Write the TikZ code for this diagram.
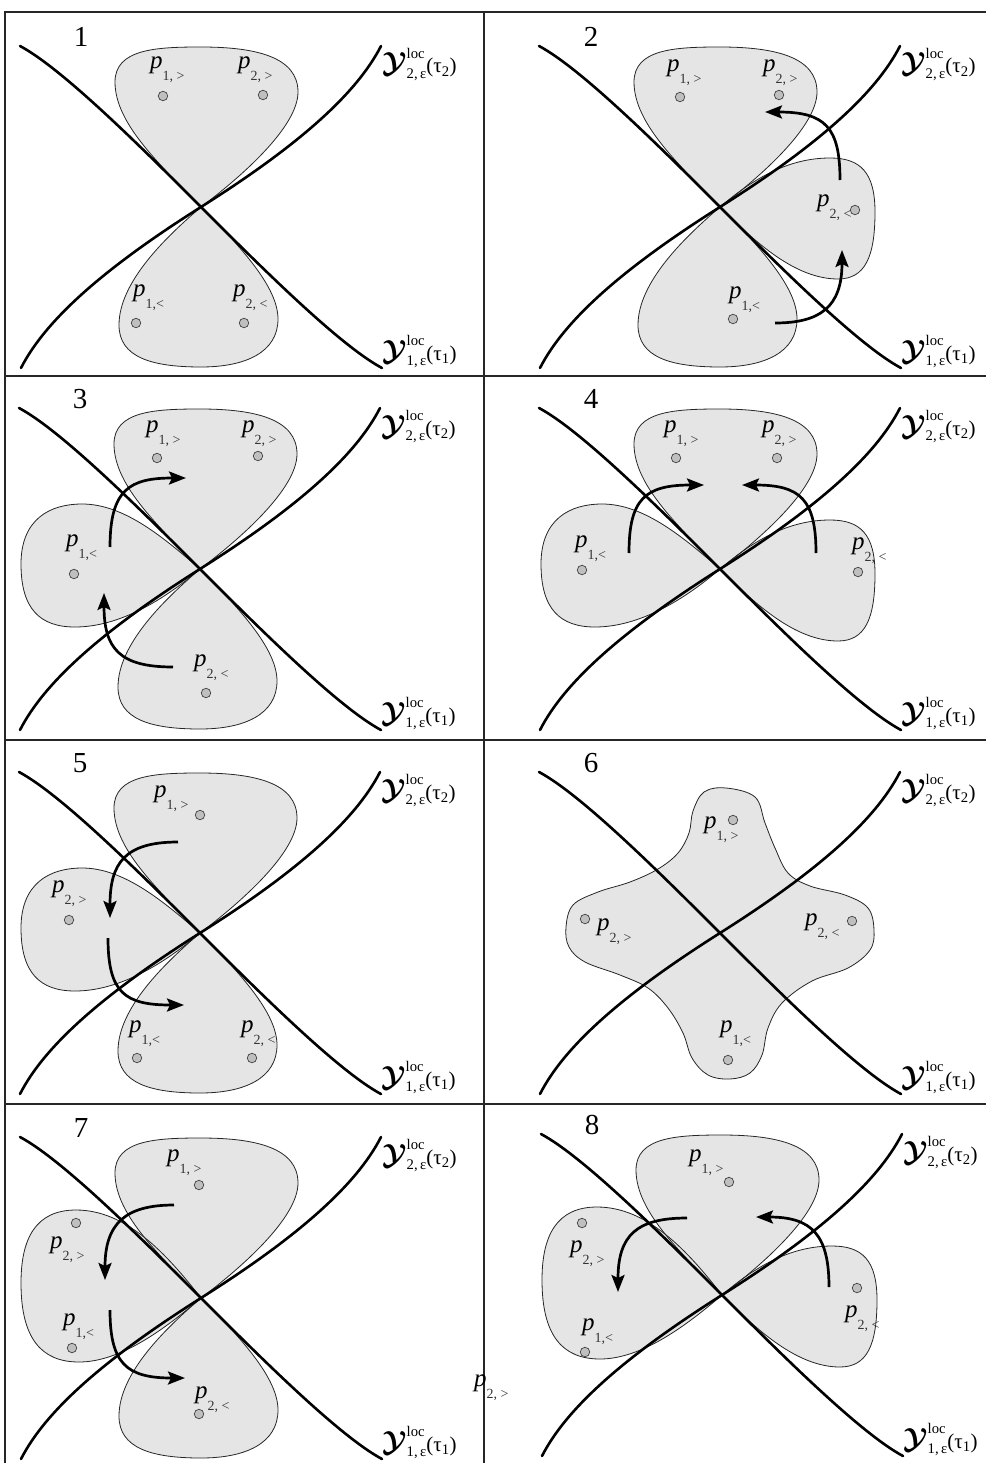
\documentclass[tikz,border=0pt]{standalone}
\usepackage{amsmath}
\usepackage{bm}
\usepackage{fontspec}
\setmainfont{Liberation Serif}
\usetikzlibrary{arrows.meta}

\tikzset{
  frameline/.style={line width=1.1pt, black!85},
  ycurve/.style={line width=2.6pt, line cap=round},
  blobfill/.style={fill=black!10},
  blobline/.style={draw=black!85, line width=0.8pt},
  dot/.style={circle, draw=black!75, fill=black!25, line width=0.7pt, minimum size=9.5pt, inner sep=0pt},
  mv/.style={line width=2.7pt, -{Stealth[length=17pt,width=13pt,inset=3pt]}},
  plab/.style={anchor=base west, inner sep=0pt, font=\fontsize{25}{25}\selectfont},
  ylab/.style={anchor=base west, inner sep=0pt, font=\fontsize{21}{21}\selectfont},
  num/.style={inner sep=0pt, font=\fontsize{29}{29}\selectfont},
}

\newcommand{\pl}[1]{\textit{p}\raisebox{-12pt}{\fontsize{14}{14}\selectfont\color{black!80}#1}}
\newcommand{\Yl}[1]{$\scalebox{1.4}{$\bm{\mathcal{Y}}$}^{\text{loc}}_{\text{#1,\,ε}}$\kern-0.5pt(τ$_{\text{#1}}$)}

\newcommand{\BTop}[1]{\path[#1] (0,0) .. controls (-38,-40) and (-86,-82) .. (-86,-125) .. controls (-86,-158) and (-45,-160) .. (0,-160) .. controls (55,-160) and (97,-150) .. (97,-115) .. controls (97,-80) and (40,-30) .. (0,0) -- cycle;}
\newcommand{\BBot}[1]{\path[#1] (0,0) .. controls (-35,30) and (-82,75) .. (-82,118) .. controls (-82,150) and (-50,160) .. (0,160) .. controls (45,160) and (77,145) .. (77,112) .. controls (77,80) and (40,40) .. (0,0) -- cycle;}
\newcommand{\BRight}[1]{\path[#1] (0,0) .. controls (35,-30) and (70,-49) .. (110,-49) .. controls (140,-49) and (155,-35) .. (155,5) .. controls (155,50) and (145,72) .. (118,72) .. controls (75,72) and (35,35) .. (0,0) -- cycle;}
\newcommand{\BLeft}[1]{\path[#1] (0,0) .. controls (-35,-30) and (-75,-65) .. (-118,-65) .. controls (-150,-65) and (-179,-50) .. (-179,-5) .. controls (-179,40) and (-160,58) .. (-125,58) .. controls (-80,58) and (-35,30) .. (0,0) -- cycle;}
\newcommand{\BLeftT}[1]{\path[#1] (0,0) .. controls (-35,-45) and (-75,-88) .. (-125,-88) .. controls (-165,-88) and (-180,-60) .. (-180,-15) .. controls (-180,40) and (-160,64) .. (-122,64) .. controls (-80,64) and (-35,30) .. (0,0) -- cycle;}
\newcommand{\BStar}[1]{\path[#1] plot[smooth cycle, tension=0.6] coordinates {(6,-145) (35,-136) (45,-110) (55,-85) (68,-60) (90,-47) (125,-38) (148,-25) (154,-3) (150,17) (128,35) (92,48) (62,70) (48,95) (42,122) (30,140) (10,146) (-12,142) (-28,125) (-37,100) (-52,75) (-72,55) (-100,42) (-135,29) (-151,14) (-154,-6) (-147,-28) (-122,-41) (-90,-51) (-62,-64) (-42,-80) (-31,-100) (-27,-122) (-16,-141)};}

\newcommand{\Ycurves}[1]{%
  \draw[ycurve] (-181,-161) .. controls (-138,-138) and (-58,-58) .. (0,0) .. controls (58,58) and (138,138) .. (181,161);
  \draw[ycurve] (-180,161) .. controls (-155,112) and (-95,60) .. (0,0) .. controls (95,-60) and (155,-112) .. (180,-161);
  \node[ylab] (ya#1) at (181,-134) {\Yl{2}};
  \node[ylab] (yb#1) at (181,153) {\Yl{1}};
}

\begin{document}
\begin{tikzpicture}[x=1pt,y=-1pt]
\useasboundingbox (0,0) rectangle (986,1463);
% frame
\draw[frameline] (5,1463) -- (5,12) -- (986,12);
\draw[frameline] (484,12) -- (484,1463);
\draw[frameline] (5,376) -- (986,376);
\draw[frameline] (5,740) -- (986,740);
\draw[frameline] (5,1104) -- (986,1104);

% ---------- panel 1
\begin{scope}[shift={(201,207)}]
  \BTop{blobfill} \BBot{blobfill}
  \BTop{blobline} \BBot{blobline}
  \Ycurves{1}
  \node[num] (n1) at (-120,-170) {1};
  \node[dot] (d1a) at (-38,-111) {}; \node[dot] (d1b) at (62,-112) {};
  \node[dot] (d1c) at (-65,116) {}; \node[dot] (d1d) at (43,116) {};
  \node[plab] (l1a) at (-51,-138) {\pl{1, >}};
  \node[plab] (l1b) at (37,-138) {\pl{2, >}};
  \node[plab] (l1c) at (-68,89) {\pl{1,<}};
  \node[plab] (l1d) at (32,89) {\pl{2, <}};
\end{scope}

% ---------- panel 2
\begin{scope}[shift={(720,207)}]
  \BTop{blobfill} \BBot{blobfill} \BRight{blobfill}
  \BTop{blobline} \BBot{blobline} \BRight{blobline}
  \Ycurves{2}
  \node[num] (n2) at (-129,-170) {2};
  \node[dot] (d2a) at (-40,-110) {}; \node[dot] (d2b) at (59,-112) {};
  \node[dot] (d2c) at (13,112) {}; \node[dot] (d2d) at (135,3) {};
  \node[plab] (l2a) at (-53,-135) {\pl{1, >}};
  \node[plab] (l2b) at (43,-135) {\pl{2, >}};
  \node[plab] (l2c) at (9,91) {\pl{1,<}};
  \node[plab] (l2d) at (97,0) {\pl{2, <}};
  \coordinate (a2s) at (55,116); \coordinate (a2e) at (122,43);
  \coordinate (b2s) at (120,-27); \coordinate (b2e) at (45,-95);
  \draw[mv] (a2s) .. controls (100,116) and (122,100) .. (a2e);
  \draw[mv] (b2s) .. controls (120,-80) and (105,-95) .. (b2e);
\end{scope}

% ---------- panel 3
\begin{scope}[shift={(200,569)}]
  \BTop{blobfill} \BBot{blobfill} \BLeft{blobfill}
  \BTop{blobline} \BBot{blobline} \BLeft{blobline}
  \Ycurves{3}
  \node[num] (n3) at (-120,-170) {3};
  \node[dot] (d3a) at (-43,-111) {}; \node[dot] (d3b) at (58,-113) {};
  \node[dot] (d3c) at (-126,5) {}; \node[dot] (d3d) at (6,124) {};
  \node[plab] (l3a) at (-54,-137) {\pl{1, >}};
  \node[plab] (l3b) at (42,-137) {\pl{2, >}};
  \node[plab] (l3c) at (-134,-23) {\pl{1,<}};
  \node[plab] (l3d) at (-6,97) {\pl{2, <}};
  \coordinate (a3s) at (-90,-22); \coordinate (a3e) at (-14,-91);
  \coordinate (b3s) at (-27,98); \coordinate (b3e) at (-96,24);
  \draw[mv] (a3s) .. controls (-90,-80) and (-70,-91) .. (a3e);
  \draw[mv] (b3s) .. controls (-80,98) and (-96,80) .. (b3e);
\end{scope}

% ---------- panel 4
\begin{scope}[shift={(720,569)}]
  \BTop{blobfill} \BLeft{blobfill} \BRight{blobfill}
  \BTop{blobline} \BLeft{blobline} \BRight{blobline}
  \Ycurves{4}
  \node[num] (n4) at (-129,-170) {4};
  \node[dot] (d4a) at (-44,-111) {}; \node[dot] (d4b) at (57,-111) {};
  \node[dot] (d4c) at (-138,1) {}; \node[dot] (d4d) at (138,3) {};
  \node[plab] (l4a) at (-56,-137) {\pl{1, >}};
  \node[plab] (l4b) at (42,-137) {\pl{2, >}};
  \node[plab] (l4c) at (-145,-22) {\pl{1,<}};
  \node[plab] (l4d) at (132,-20) {\pl{2, <}};
  \coordinate (a4s) at (-91,-16); \coordinate (a4e) at (-16,-84);
  \coordinate (b4s) at (96,-16); \coordinate (b4e) at (22,-84);
  \draw[mv] (a4s) .. controls (-91,-70) and (-75,-84) .. (a4e);
  \draw[mv] (b4s) .. controls (96,-70) and (80,-84) .. (b4e);
\end{scope}

% ---------- panel 5
\begin{scope}[shift={(200,933)}]
  \BTop{blobfill} \BLeft{blobfill} \BBot{blobfill}
  \BTop{blobline} \BLeft{blobline} \BBot{blobline}
  \Ycurves{5}
  \node[num] (n5) at (-120,-170) {5};
  \node[dot] (d5a) at (0,-118) {}; \node[dot] (d5b) at (-131,-13) {};
  \node[dot] (d5c) at (-63,125) {}; \node[dot] (d5d) at (52,125) {};
  \node[plab] (l5a) at (-46,-136) {\pl{1, >}};
  \node[plab] (l5b) at (-148,-41) {\pl{2, >}};
  \node[plab] (l5c) at (-71,99) {\pl{1,<}};
  \node[plab] (l5d) at (41,99) {\pl{2, <}};
  \coordinate (a5s) at (-22,-91); \coordinate (a5e) at (-90,-15);
  \coordinate (b5s) at (-92,5); \coordinate (b5e) at (-16,72);
  \draw[mv] (a5s) .. controls (-75,-91) and (-90,-70) .. (a5e);
  \draw[mv] (b5s) .. controls (-92,60) and (-75,72) .. (b5e);
\end{scope}

% ---------- panel 6
\begin{scope}[shift={(720,933)}]
  \BStar{blobfill}
  \BStar{blobline}
  \Ycurves{6}
  \node[num] (n6) at (-129,-170) {6};
  \node[dot] (d6a) at (13,-113) {}; \node[dot] (d6b) at (-135,-14) {};
  \node[dot] (d6c) at (8,127) {}; \node[dot] (d6d) at (132,-12) {};
  \node[plab] (l6a) at (-16,-105) {\pl{1, >}};
  \node[plab] (l6b) at (-123,-3) {\pl{2, >}};
  \node[plab] (l6c) at (0,99) {\pl{1,<}};
  \node[plab] (l6d) at (85,-8) {\pl{2, <}};
\end{scope}

% ---------- panel 7
\begin{scope}[shift={(201,1298)}]
  \BTop{blobfill} \BLeftT{blobfill} \BBot{blobfill}
  \BTop{blobline} \BLeftT{blobline} \BBot{blobline}
  \Ycurves{7}
  \node[num] (n7) at (-120,-170) {7};
  \node[dot] (d7a) at (-2,-113) {}; \node[dot] (d7b) at (-125,-75) {};
  \node[dot] (d7c) at (-129,50) {}; \node[dot] (d7d) at (-2,116) {};
  \node[plab] (l7a) at (-34,-137) {\pl{1, >}};
  \node[plab] (l7b) at (-151,-50) {\pl{2, >}};
  \node[plab] (l7c) at (-138,27) {\pl{1,<}};
  \node[plab] (l7d) at (-6,100) {\pl{2, <}};
  \coordinate (a7s) at (-27,-93); \coordinate (a7e) at (-96,-18);
  \coordinate (b7s) at (-91,12); \coordinate (b7e) at (-16,80);
  \draw[mv] (a7s) .. controls (-75,-93) and (-96,-75) .. (a7e);
  \draw[mv] (b7s) .. controls (-91,65) and (-75,80) .. (b7e);
\end{scope}

% stray label
\node[plab] (lx) at (474,1386) {\pl{2, >}};

% ---------- panel 8
\begin{scope}[shift={(722,1295)}]
  \BTop{blobfill} \BLeftT{blobfill} \BRight{blobfill}
  \BTop{blobline} \BLeftT{blobline} \BRight{blobline}
  \Ycurves{8}
  \node[num] (n8) at (-130,-170) {8};
  \node[dot] (d8a) at (7,-113) {}; \node[dot] (d8b) at (-140,-72) {};
  \node[dot] (d8c) at (-137,57) {}; \node[dot] (d8d) at (135,-7) {};
  \node[plab] (l8a) at (-33,-134) {\pl{1, >}};
  \node[plab] (l8b) at (-152,-43) {\pl{2, >}};
  \node[plab] (l8c) at (-140,35) {\pl{1,<}};
  \node[plab] (l8d) at (123,22) {\pl{2, <}};
  \coordinate (a8s) at (-35,-77); \coordinate (a8e) at (-104,-3);
  \coordinate (b8s) at (107,-8); \coordinate (b8e) at (34,-78);
  \draw[mv] (a8s) .. controls (-85,-77) and (-104,-60) .. (a8e);
  \draw[mv] (b8s) .. controls (107,-60) and (90,-78) .. (b8e);
\end{scope}
\end{tikzpicture}
\end{document}
